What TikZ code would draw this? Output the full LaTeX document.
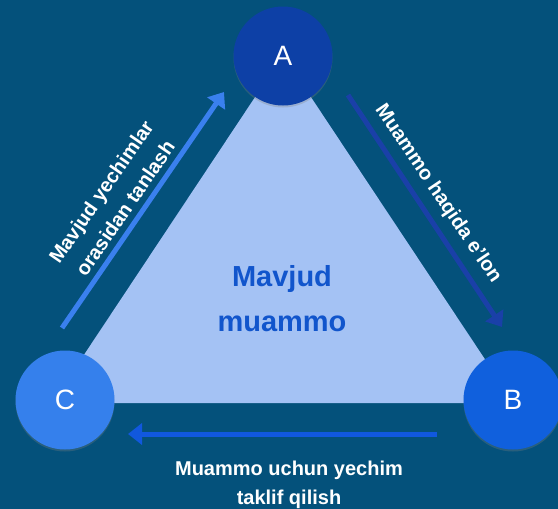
\documentclass[tikz,border=0pt]{standalone}
\usepackage{fontspec}
\setmainfont{Liberation Sans}
\usetikzlibrary{arrows.meta,shadows}
\definecolor{bgblue}{HTML}{04517B}
\definecolor{tri}{HTML}{A4C2F4}
\definecolor{cA}{HTML}{0D40A6}
\definecolor{cB}{HTML}{1060DD}
\definecolor{cC}{HTML}{3580EC}
\definecolor{arL}{HTML}{3A80EE}
\definecolor{arR}{HTML}{1A40A8}
\definecolor{arB}{HTML}{1158DE}
\definecolor{midtxt}{HTML}{1155CC}
\tikzset{
  vertex/.style={circle, minimum size=99pt, inner sep=0pt, text=white,
    font=\fontsize{28}{30}\selectfont,
    drop shadow={opacity=0.3, shadow xshift=0pt, shadow yshift=-2pt}},
  flow/.style={line width=5pt, -{Triangle[length=14pt,width=21pt]}},
  lbl/.style={text=white, font=\bfseries\fontsize{20}{29}\selectfont, align=center, inner sep=0pt}
}
\begin{document}
\begin{tikzpicture}[x=1pt,y=-1pt]
\fill[bgblue] (0,0) rectangle (558,509);
\useasboundingbox (0,0) rectangle (558,509);
\fill[tri] (283,55) -- (52,403) -- (514,403) -- cycle;
\node[text=midtxt, font=\bfseries\fontsize{29}{45}\selectfont, align=center, inner sep=0pt] (mid) at (282,299) {Mavjud\\muammo};
\node[vertex, fill=cA] (A) at (283,56) {A};
\node[vertex, fill=cB] (B) at (513,400) {B};
\node[vertex, fill=cC] (C) at (65,400) {C};
\coordinate (l1) at (62,328);
\coordinate (l2) at (224,92);
\coordinate (r1) at (348,95);
\coordinate (r2) at (502,327);
\coordinate (b1) at (437,434);
\coordinate (b2) at (128,434);
\draw[flow, arL] (l1) -- (l2);
\draw[flow, arR] (r1) -- (r2);
\draw[flow, arB] (b1) -- (b2);
\node[lbl, rotate=55.5] (tl) at (113,200) {Mavjud yechimlar\\orasidan tanlash};
\node[lbl, rotate=-56] (tr) at (438,194) {Muammo haqida e’lon};
\node[lbl] (tb) at (289,485) {Muammo uchun yechim\\taklif qilish};
\end{tikzpicture}
\end{document}
